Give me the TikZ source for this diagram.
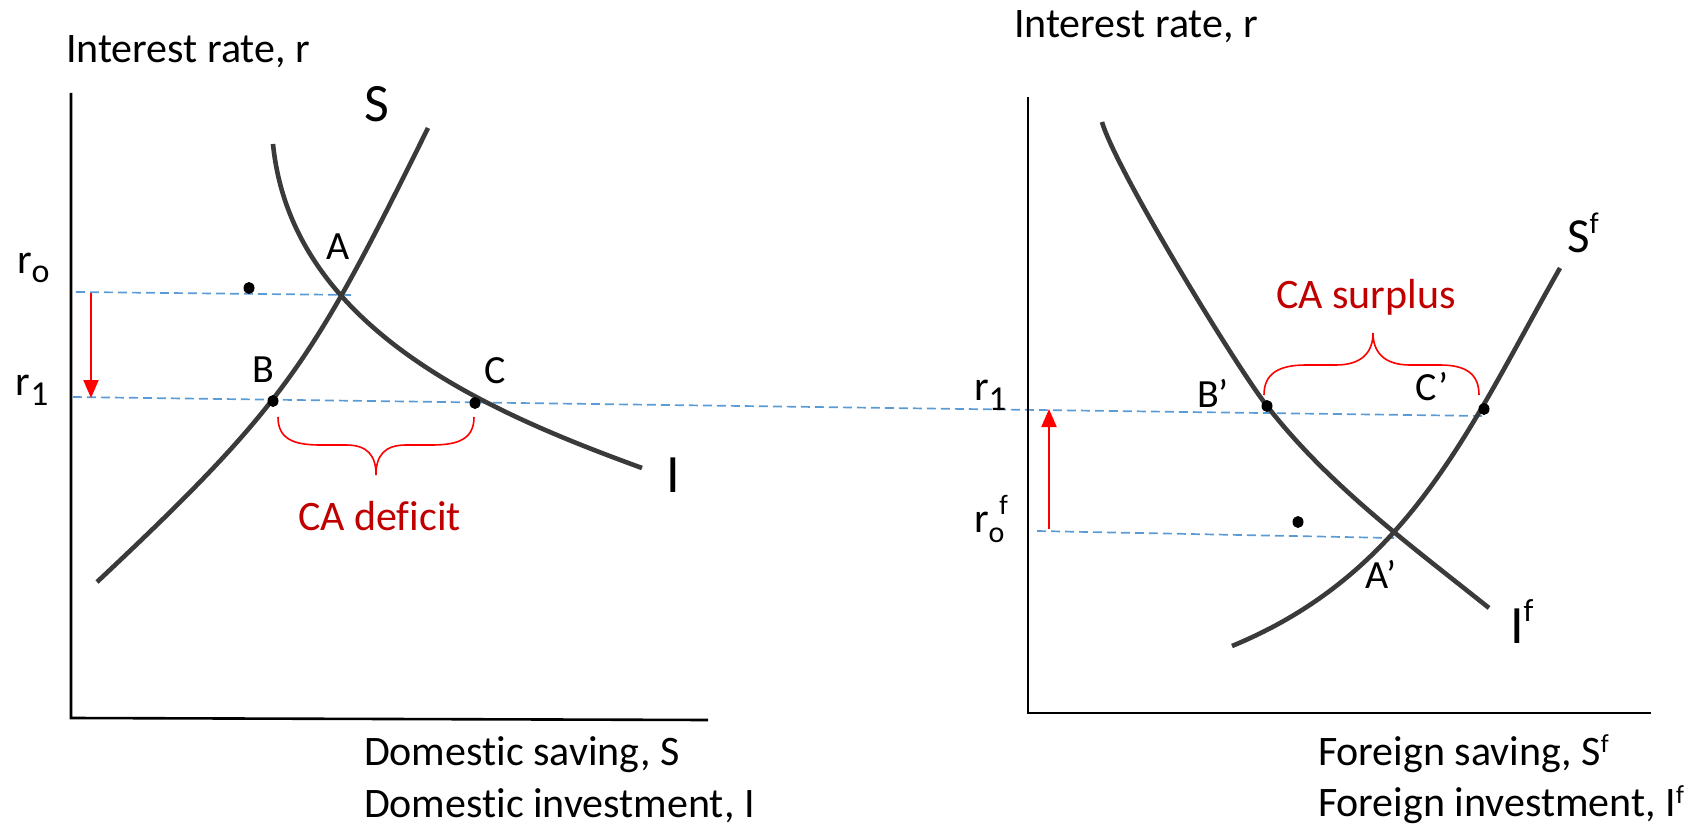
\documentclass[tikz,border=0pt]{standalone}
\usepackage{fontspec}
\setmainfont{Carlito}[Ligatures=NoCommon]
\usetikzlibrary{arrows.meta,shapes.geometric}
\definecolor{curvegray}{HTML}{3A3A3A}
\definecolor{guideblue}{HTML}{5B9BD5}
\definecolor{cared}{HTML}{C00000}
\newcommand\myfs[1]{\fontsize{#1}{#1}\selectfont}
\begin{document}
\begin{tikzpicture}[x=1pt,y=-1pt,
  lbl/.style={anchor=base west, inner sep=0pt, outer sep=0pt, font=\myfs{42}},
  biglbl/.style={lbl, font=\myfs{54}},
  ptlbl/.style={lbl, font=\myfs{40}},
  curvestyle/.style={draw=curvegray, line width=4.6pt},
  axisline/.style={draw=black, line width=2.6pt},
  guide/.style={draw=guideblue, line width=1.7pt, dash pattern=on 9pt off 5pt},
  shiftarrow/.style={draw=red, line width=2.2pt, -{Triangle[length=18pt,width=15pt]}},
  bracestyle/.style={draw=red, line width=1.6pt},
  dotstyle/.style={fill=black, ellipse, inner sep=0pt, minimum width=11pt, minimum height=12pt},
]
\useasboundingbox (0,0) rectangle (1695,829);

% ---------------- left panel ----------------
\coordinate (LO) at (71,718);
\coordinate (LT) at (71,93);
\coordinate (LR) at (708,720);
\draw[axisline] (LT) -- (LO) -- (LR);

\node[lbl] (lyt) at (66,63) {Interest rate, r};
\node[lbl] (lx1) at (364,765) {Domestic saving, S};
\node[lbl] (lx2) at (364,817) {Domestic investment, I};

\node[lbl] (lr0) at (17,273) {r\raisebox{-9pt}{\myfs{34}o}};
\node[lbl] (lr1) at (16,395) {r\raisebox{-10pt}{\myfs{35}1}};

% guides
\coordinate (g0a) at (76,292);
\coordinate (g0b) at (355,295);
\coordinate (g1a) at (73,397);
\coordinate (g1b) at (1484,416);
\draw[guide] (g0a) -- (g0b);
\draw[guide] (g1a) -- (g1b);

% curves
\draw[curvestyle] (97,582) .. controls (288,403) and (313,360) .. (428,128);
\draw[curvestyle] (273,144) .. controls (291.6,329.6) and (491.5,413.1) .. (642,468);

% arrow
\coordinate (la1) at (91,293);
\coordinate (la2) at (91,398);
\draw[shiftarrow] (la1) -- (la2);

% dots
\node[dotstyle] (ldot) at (249,288) {};
\node[dotstyle] (dB) at (273,401) {};
\node[dotstyle] (dC) at (475,403) {};

% labels
\node[biglbl] (lS) at (364,122) {S};
\node[biglbl] (lI) at (666,492) {I};
\node[ptlbl] (lA) at (326,260) {A};
\node[ptlbl] (lB) at (252,382) {B};
\node[ptlbl] (lC) at (484,383) {C};

% brace
\draw[bracestyle] (278,417) .. controls (278,438) and (292,445) .. (320,445) -- (346,445) .. controls (368,445) and (376,456) .. (376,475)
  .. controls (376,456) and (384,445) .. (406,445) -- (432,445) .. controls (460,445) and (474,438) .. (474,417);
\node[lbl, text=cared] (ldef) at (298,530) {CA deficit};

% ---------------- right panel ----------------
\coordinate (RO) at (1028,713);
\coordinate (RT) at (1028,97);
\coordinate (RR) at (1651,713);
\draw[axisline] (RT) -- (RO) -- (RR);

\node[lbl] (ryt) at (1014,38) {Interest rate, r};
\node[lbl] (rx1) at (1318,765) {Foreign saving, S\raisebox{13pt}{\myfs{26}f}};
\node[lbl] (rx2) at (1318,816) {Foreign investment, I\raisebox{13pt}{\myfs{26}f}};

\node[lbl] (rr1) at (974,400) {r\raisebox{-10pt}{\myfs{35}1}};
\node[lbl] (rr0) at (974,532) {r\raisebox{-10pt}{\myfs{30}o}\hspace{-5pt}\raisebox{18pt}{\myfs{28}f}};

\coordinate (g2a) at (1037,531);
\coordinate (g2b) at (1394,538);
\draw[guide] (g2a) -- (g2b);

\draw[curvestyle] (1102,122) .. controls (1116,170.2) and (1235.7,365.8) .. (1267,406)
                  .. controls (1329.4,486.1) and (1410.6,545.3) .. (1489,608);
\draw[curvestyle] (1232,646) .. controls (1410.5,572.4) and (1469.5,427) .. (1560,268);

\coordinate (ra1) at (1049,529);
\coordinate (ra2) at (1049,409);
\draw[shiftarrow] (ra1) -- (ra2);

\node[dotstyle] (rdot) at (1298,522) {};
\node[dotstyle] (dBp) at (1267,406) {};
\node[dotstyle] (dCp) at (1484,409) {};

\node[lbl, font=\myfs{49}] (rS) at (1567,253) {S\raisebox{20pt}{\myfs{30}f}};
\node[biglbl] (rI) at (1510,643) {I\raisebox{22pt}{\myfs{32}f}};
\node[ptlbl] (rA) at (1365,588) {A’};
\node[ptlbl] (rB) at (1197,407) {B’};
\node[ptlbl] (rC) at (1415,400) {C’};

\draw[bracestyle] (1264,395) .. controls (1264,374) and (1278,365) .. (1306,365) -- (1336,365) .. controls (1362,365) and (1373,352) .. (1373,333)
  .. controls (1373,352) and (1384,365) .. (1410,365) -- (1440,365) .. controls (1466,365) and (1479,374) .. (1479,395);
\node[lbl, text=cared] (rsur) at (1276,308) {CA surplus};
\end{tikzpicture}
\end{document}
